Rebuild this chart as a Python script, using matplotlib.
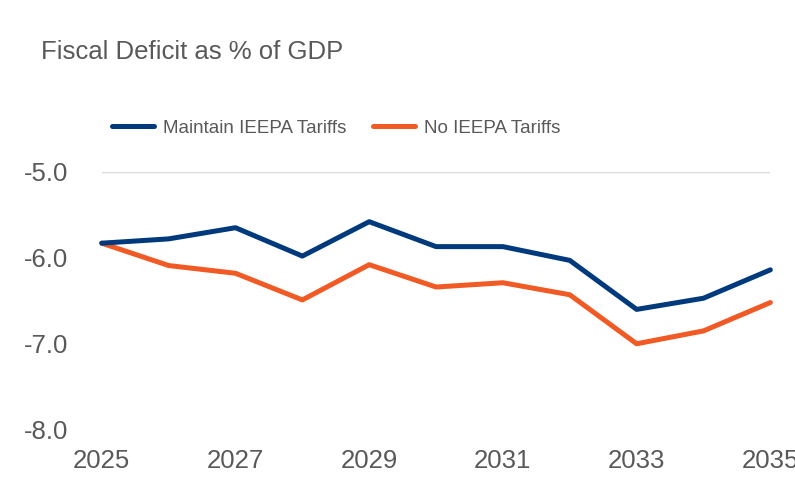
import matplotlib
matplotlib.use("Agg")
import matplotlib.pyplot as plt

plt.rcParams['font.family'] = ['Liberation Sans', 'DejaVu Sans']

years = [2025, 2026, 2027, 2028, 2029, 2030, 2031, 2032, 2033, 2034, 2035]
maintain_tariffs = [-5.83, -5.78, -5.65, -5.98, -5.58, -5.87, -5.87, -6.03, -6.60, -6.47, -6.14]
no_tariffs = [-5.83, -6.09, -6.18, -6.49, -6.08, -6.34, -6.29, -6.43, -7.00, -6.85, -6.52]
series_labels = ["Maintain IEEPA Tariffs", "No IEEPA Tariffs"]
x_ticks = [2025, 2027, 2029, 2031, 2033, 2035]
y_ticks = [-8.0, -7.0, -6.0, -5.0]
title = "Fiscal Deficit as % of GDP"

BLUE = '#003A7D'
ORANGE = '#F15A24'
TEXT = '#595959'

fig = plt.figure(figsize=(7.95, 4.98), dpi=100)
ax = fig.add_axes([0.128, 0.137, 0.841, 0.518])

ax.axhline(max(y_ticks), color='#D9D9D9', lw=1.0, zorder=1)
ax.plot(years, maintain_tariffs, color=BLUE, lw=3.6, label=series_labels[0],
        solid_capstyle='round', clip_on=False, zorder=3)
ax.plot(years, no_tariffs, color=ORANGE, lw=3.6, label=series_labels[1],
        solid_capstyle='round', clip_on=False, zorder=2)

ax.set_xlim(years[0], years[-1])
ax.set_ylim(min(y_ticks), max(y_ticks))
ax.set_xticks(x_ticks)
ax.set_xticklabels([str(y) for y in x_ticks])
ax.set_yticks(y_ticks)
ax.set_yticklabels([f"{v:.1f}" for v in y_ticks])
ax.tick_params(axis='both', length=0, labelsize=18.5, colors=TEXT)
ax.tick_params(axis='x', pad=14)
ax.tick_params(axis='y', pad=24)
for s in ax.spines.values():
    s.set_visible(False)

fig.text(41 / 795, 1 - 52 / 498, title, fontsize=18.5, color=TEXT,
         ha='left', va='center')

leg = fig.legend(loc='center', bbox_to_anchor=(0.423, 0.743), ncol=2,
                 frameon=False, fontsize=13.5, handlelength=2.25,
                 handletextpad=0.5, columnspacing=1.4, labelcolor=TEXT)
for h in leg.get_lines():
    h.set_linewidth(3.6)
    h.set_solid_capstyle('round')

fig.savefig('out.png', dpi=100)
